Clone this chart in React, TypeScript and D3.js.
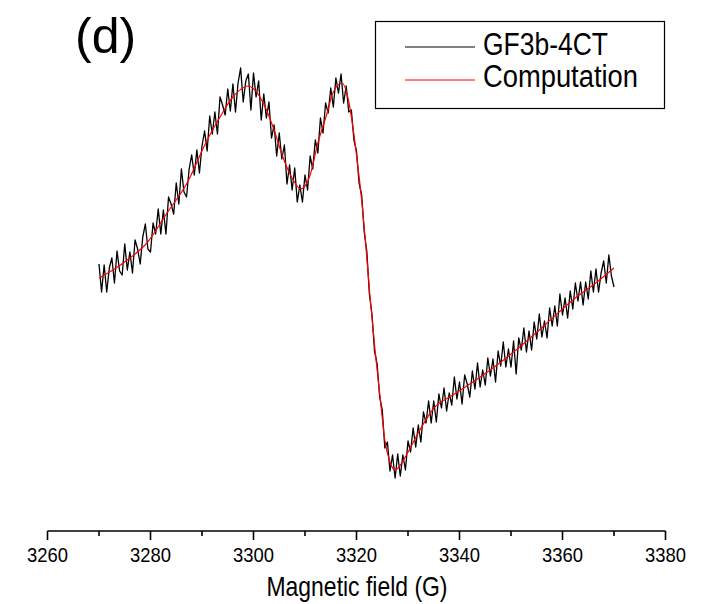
import React from "react";
import * as d3 from "d3";

const fieldStart = 3270;
const fieldStep = 0.5;

// Experimental spectrum (GF3b-4CT), arbitrary intensity units
const experimental = [
  16, -12, 15, -12, 12, 22, -3, 29, 9, 5, 36, 10, 28, 7, 40, 31, 16, 43, 56, 31,
  28, 57, 46, 71, 46, 70, 46, 83, 76, 66, 97, 76, 111, 88, 83, 111, 125, 105, 130, 107,
  134, 149, 129, 164, 146, 168, 146, 183, 175, 165, 191, 169, 196, 168, 197, 212, 178, 199, 206, 170,
  207, 183, 199, 160, 186, 162, 178, 142, 155, 124, 147, 121, 135, 96, 115, 90, 112, 78, 95, 78,
  105, 90, 124, 111, 140, 127, 162, 147, 177, 167, 192, 173, 202, 187, 206, 177, 194, 168, 170, 140,
  129, 97, 85, 48, 29, -14, -34, -71, -84, -117, -130, -168, -162, -191, -175, -198, -174, -196, -175, -190,
  -161, -172, -148, -167, -145, -162, -132, -143, -121, -143, -121, -142, -114, -128, -108, -131, -113, -125, -97, -119,
  -102, -124, -95, -104, -117, -91, -109, -83, -107, -90, -105, -78, -96, -79, -102, -71, -86, -62, -87, -69,
  -87, -61, -94, -58, -70, -48, -72, -51, -70, -42, -59, -34, -57, -41, -58, -28, -46, -26, -46, -14,
  -35, -18, -38, -11, -29, -3, -21, -2, -25, -2, -19, 9, -12, 11, -12, 7, 19, -3, 25, 4,
  -7,
];

// Computed spectrum (fit)
const computedField = [
  3270.0, 3272.7, 3276.0, 3279.3, 3283.2, 3287.1, 3291.0, 3293.5, 3296.0, 3298.9,
  3301.8, 3303.8, 3305.7, 3307.7, 3309.2, 3311.0, 3312.5, 3314.3, 3315.4, 3317.2,
  3318.3, 3319.3, 3320.3, 3321.1, 3321.8, 3322.6, 3323.6, 3324.6, 3325.5, 3326.5,
  3327.5, 3328.4, 3329.8, 3332.3, 3334.9, 3338.7, 3342.6, 3346.5, 3351.7, 3357.0,
  3362.0, 3366.7, 3370.0,
];
const computedValue = [
  2, 10, 22, 37, 67, 97, 140, 163, 183, 194,
  178, 153, 123, 100, 91, 105, 137, 167, 187, 197,
  183, 153, 112, 75, 35, -15, -70, -118, -160, -182,
  -190, -186, -174, -150, -129, -115, -102, -88, -67, -43,
  -20, -2, 12,
];

const xTicksMajor = [3260, 3280, 3300, 3320, 3340, 3360, 3380];
const xTicksMinor = [3270, 3290, 3310, 3330, 3350, 3370];
const xLabel = "Magnetic field (G)";
const panelLabel = "(d)";
const seriesNames = ["GF3b-4CT", "Computation"];

const FONT = "'Liberation Sans', Arial, sans-serif";

export default function App() {
  const W = 713;
  const H = 604;
  const x = d3.scaleLinear().domain([3260, 3380]).range([47.5, 665.5]);
  const y = d3.scaleLinear().domain([-250, 250]).range([530, 30]);
  const axisY = 531;

  const expPts: [number, number][] = experimental.map((v, i) => [fieldStart + i * fieldStep, v]);
  const compPts: [number, number][] = computedField.map((g, i) => [g, computedValue[i]]);

  const expLine = d3
    .line<[number, number]>()
    .x((d) => x(d[0]))
    .y((d) => y(d[1]));
  const compLine = d3
    .line<[number, number]>()
    .x((d) => x(d[0]))
    .y((d) => y(d[1]))
    .curve(d3.curveMonotoneX);

  return (
    <svg width={W} height={H} style={{ position: "absolute", left: 0, top: 0, background: "#fff" }}>
      <rect x={0} y={0} width={W} height={H} fill="#fff" />
      <path d={expLine(expPts) || ""} fill="none" stroke="#000" strokeWidth={1.3} strokeLinejoin="round" />
      <path d={compLine(compPts) || ""} fill="none" stroke="#ff0000" strokeWidth={1.2} />

      {/* x axis */}
      <line x1={x(3260)} x2={x(3380)} y1={axisY} y2={axisY} stroke="#000" strokeWidth={1.6} />
      {xTicksMajor.map((t) => (
        <g key={"M" + t}>
          <line x1={x(t)} x2={x(t)} y1={axisY} y2={axisY + 9} stroke="#000" strokeWidth={1.6} />
          <text
            x={x(t)}
            y={562}
            textAnchor="middle"
            fontFamily={FONT}
            fontSize={21}
            textLength={41}
            lengthAdjust="spacingAndGlyphs"
            fill="#000"
          >
            {t}
          </text>
        </g>
      ))}
      {xTicksMinor.map((t) => (
        <line key={"m" + t} x1={x(t)} x2={x(t)} y1={axisY} y2={axisY + 5} stroke="#000" strokeWidth={1.6} />
      ))}
      <text
        x={357}
        y={596}
        textAnchor="middle"
        fontFamily={FONT}
        fontSize={28}
        textLength={181}
        lengthAdjust="spacingAndGlyphs"
        fill="#000"
      >
        {xLabel}
      </text>

      {/* panel label */}
      <text x={75} y={53} fontFamily={FONT} fontSize={50} fill="#000">
        {panelLabel}
      </text>

      {/* legend */}
      <rect x={375.5} y={21.5} width={289} height={87} fill="#fff" stroke="#000" strokeWidth={1.2} />
      <line x1={405} x2={475} y1={47} y2={47} stroke="#000" strokeWidth={1} />
      <line x1={405} x2={475} y1={80} y2={80} stroke="#ff0000" strokeWidth={1} />
      <text
        x={483}
        y={55}
        fontFamily={FONT}
        fontSize={31}
        textLength={125}
        lengthAdjust="spacingAndGlyphs"
        fill="#000"
      >
        {seriesNames[0]}
      </text>
      <text
        x={483}
        y={87}
        fontFamily={FONT}
        fontSize={31}
        textLength={155}
        lengthAdjust="spacingAndGlyphs"
        fill="#000"
      >
        {seriesNames[1]}
      </text>
    </svg>
  );
}
